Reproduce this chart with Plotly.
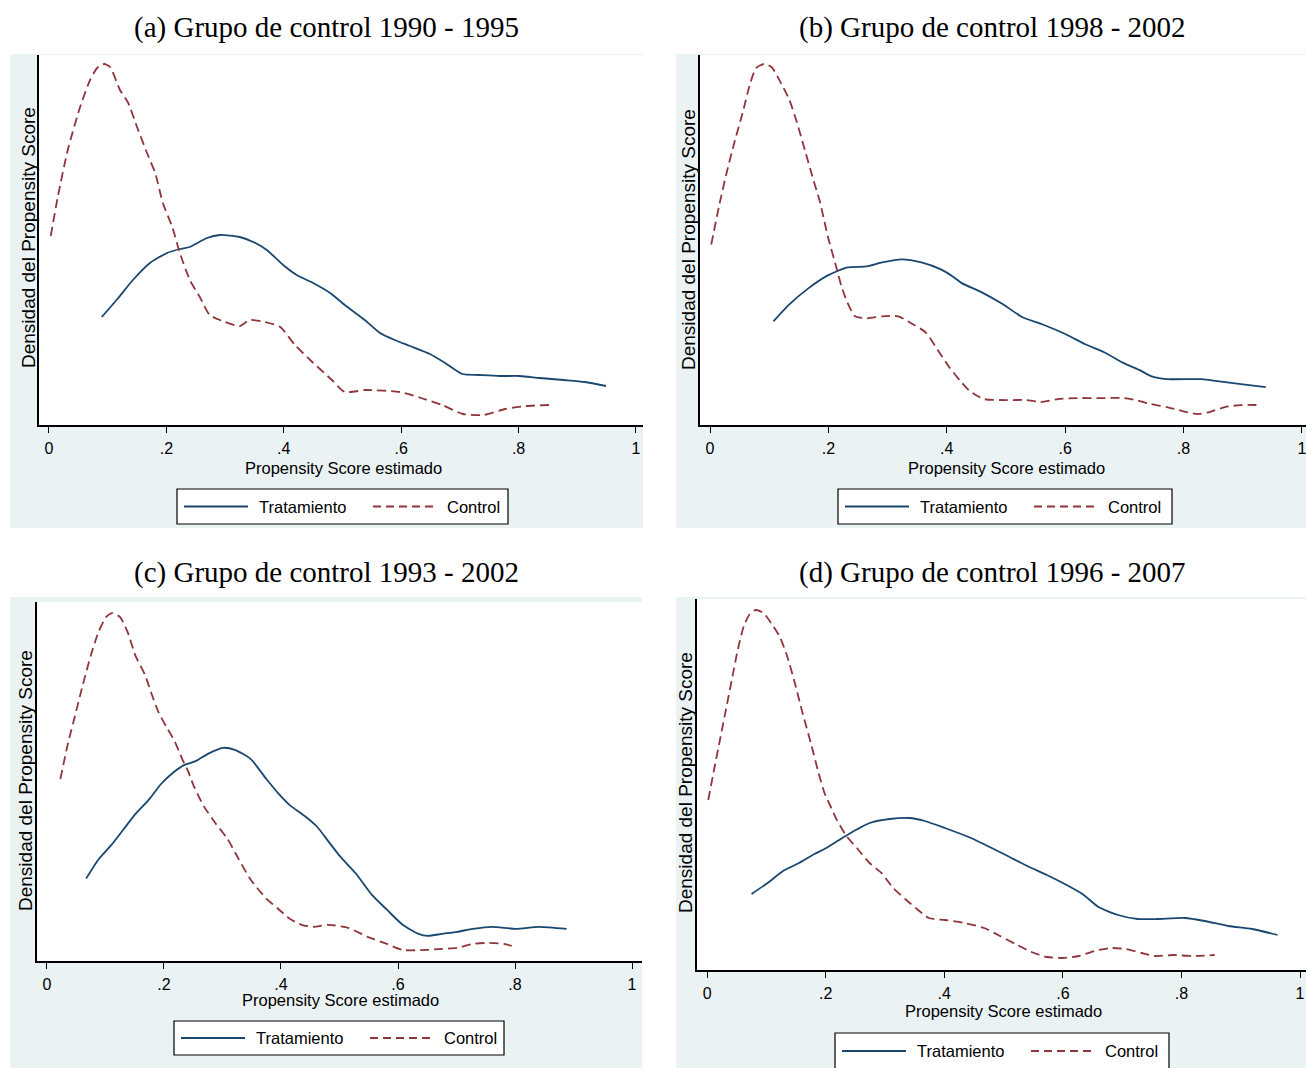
import plotly.graph_objects as go

# ---------------- data ----------------
tick_vals = [0, 0.2, 0.4, 0.6, 0.8, 1]
tick_text = ["0", ".2", ".4", ".6", ".8", "1"]
series_names = ["Tratamiento", "Control"]
titles = ["(a) Grupo de control 1990 - 1995", "(b) Grupo de control 1998 - 2002",
          "(c) Grupo de control 1993 - 2002", "(d) Grupo de control 1996 - 2007"]
x_title = "Propensity Score estimado"
y_title = "Densidad del Propensity Score"

# (a) 1990 - 1995
a_trat_x = [0.090, 0.118, 0.143, 0.172, 0.201, 0.223, 0.240, 0.269, 0.291, 0.325, 0.348, 0.371,
            0.399, 0.422, 0.450, 0.479, 0.504, 0.538, 0.564, 0.589, 0.615, 0.649, 0.675, 0.704,
            0.734, 0.768, 0.802, 0.836, 0.877, 0.913, 0.949]
a_trat_y = [1.08, 1.27, 1.45, 1.62, 1.72, 1.76, 1.78, 1.87, 1.90, 1.88, 1.83, 1.75,
            1.60, 1.50, 1.42, 1.32, 1.20, 1.05, 0.92, 0.85, 0.79, 0.71, 0.62, 0.51,
            0.50, 0.49, 0.49, 0.47, 0.45, 0.43, 0.39]
a_ctrl_x = [0.003, 0.015, 0.032, 0.053, 0.070, 0.082, 0.094, 0.104, 0.121, 0.135, 0.150, 0.167,
            0.181, 0.194, 0.210, 0.223, 0.240, 0.257, 0.274, 0.300, 0.325, 0.342, 0.368, 0.394,
            0.419, 0.445, 0.482, 0.504, 0.540, 0.598, 0.634, 0.670, 0.705, 0.741, 0.777, 0.813,
            0.852]
a_ctrl_y = [1.89, 2.28, 2.75, 3.18, 3.45, 3.57, 3.61, 3.58, 3.35, 3.22, 2.98, 2.72,
            2.52, 2.22, 1.98, 1.72, 1.45, 1.28, 1.10, 1.03, 0.99, 1.05, 1.03, 0.98,
            0.80, 0.65, 0.45, 0.33, 0.35, 0.33, 0.27, 0.20, 0.11, 0.10, 0.16, 0.19,
            0.20]

# (b) 1998 - 2002
b_trat_x = [0.107, 0.134, 0.166, 0.199, 0.232, 0.265, 0.291, 0.324, 0.357, 0.390, 0.410, 0.426,
            0.456, 0.495, 0.528, 0.561, 0.601, 0.634, 0.666, 0.699, 0.726, 0.745, 0.772, 0.831,
            0.857, 0.897, 0.939]
b_trat_y = [1.04, 1.21, 1.37, 1.50, 1.58, 1.59, 1.63, 1.66, 1.63, 1.56, 1.49, 1.42,
            1.34, 1.21, 1.08, 1.01, 0.91, 0.81, 0.73, 0.62, 0.55, 0.49, 0.46, 0.46,
            0.44, 0.41, 0.38]
b_ctrl_x = [0.002, 0.015, 0.028, 0.041, 0.055, 0.068, 0.078, 0.091, 0.104, 0.117, 0.134, 0.147,
            0.160, 0.173, 0.186, 0.199, 0.213, 0.222, 0.232, 0.245, 0.265, 0.291, 0.318, 0.334,
            0.364, 0.384, 0.403, 0.423, 0.439, 0.463, 0.502, 0.535, 0.558, 0.588, 0.620, 0.660,
            0.699, 0.719, 0.745, 0.772, 0.798, 0.824, 0.844, 0.870, 0.897, 0.930]
b_ctrl_y = [1.81, 2.19, 2.53, 2.83, 3.13, 3.43, 3.58, 3.62, 3.59, 3.46, 3.26, 3.03,
            2.76, 2.49, 2.23, 1.89, 1.59, 1.39, 1.23, 1.09, 1.07, 1.09, 1.09, 1.04,
            0.93, 0.76, 0.59, 0.44, 0.34, 0.26, 0.25, 0.25, 0.23, 0.26, 0.27, 0.27,
            0.27, 0.25, 0.21, 0.18, 0.14, 0.11, 0.13, 0.18, 0.20, 0.20]

# (c) 1993 - 2002
c_trat_x = [0.067, 0.088, 0.111, 0.131, 0.151, 0.175, 0.195, 0.215, 0.235, 0.255, 0.275, 0.301,
            0.321, 0.348, 0.375, 0.395, 0.415, 0.441, 0.461, 0.481, 0.501, 0.528, 0.555, 0.581,
            0.608, 0.635, 0.651, 0.675, 0.701, 0.728, 0.761, 0.801, 0.841, 0.888]
c_trat_y = [0.82, 1.01, 1.16, 1.31, 1.46, 1.61, 1.76, 1.87, 1.95, 1.99, 2.06, 2.12,
            2.10, 2.01, 1.81, 1.67, 1.55, 1.44, 1.34, 1.19, 1.04, 0.87, 0.66, 0.51,
            0.36, 0.27, 0.25, 0.27, 0.29, 0.32, 0.34, 0.32, 0.34, 0.32]
c_ctrl_x = [0.023, 0.035, 0.048, 0.061, 0.075, 0.088, 0.101, 0.111, 0.125, 0.138, 0.151, 0.168,
            0.178, 0.191, 0.205, 0.218, 0.231, 0.241, 0.251, 0.268, 0.288, 0.308, 0.328, 0.348,
            0.375, 0.395, 0.415, 0.435, 0.455, 0.481, 0.515, 0.548, 0.581, 0.608, 0.648, 0.675,
            0.701, 0.728, 0.755, 0.781, 0.801]
c_ctrl_y = [1.81, 2.14, 2.44, 2.74, 3.04, 3.27, 3.42, 3.46, 3.42, 3.27, 3.04, 2.84,
            2.67, 2.47, 2.32, 2.19, 2.01, 1.89, 1.74, 1.54, 1.37, 1.22, 1.01, 0.81,
            0.62, 0.52, 0.42, 0.36, 0.34, 0.36, 0.33, 0.24, 0.17, 0.11, 0.11, 0.12,
            0.13, 0.17, 0.18, 0.17, 0.14]

# (d) 1996 - 2007
d_trat_x = [0.075, 0.102, 0.128, 0.155, 0.181, 0.201, 0.228, 0.254, 0.274, 0.308, 0.341, 0.367,
            0.401, 0.441, 0.480, 0.507, 0.540, 0.573, 0.600, 0.633, 0.660, 0.693, 0.726, 0.759,
            0.806, 0.839, 0.879, 0.919, 0.962]
d_trat_y = [0.76, 0.87, 0.99, 1.07, 1.16, 1.22, 1.32, 1.41, 1.47, 1.51, 1.52, 1.49,
            1.42, 1.33, 1.22, 1.14, 1.04, 0.95, 0.87, 0.76, 0.63, 0.55, 0.51, 0.51,
            0.52, 0.49, 0.44, 0.41, 0.35]
d_ctrl_x = [0.002, 0.012, 0.022, 0.032, 0.042, 0.052, 0.062, 0.072, 0.082, 0.095, 0.108, 0.122,
            0.135, 0.148, 0.161, 0.175, 0.188, 0.198, 0.208, 0.218, 0.235, 0.254, 0.274, 0.294,
            0.314, 0.334, 0.354, 0.374, 0.401, 0.434, 0.467, 0.494, 0.520, 0.547, 0.573, 0.600,
            0.627, 0.653, 0.680, 0.706, 0.733, 0.756, 0.786, 0.819, 0.856]
d_ctrl_y = [1.70, 2.01, 2.31, 2.61, 2.91, 3.21, 3.44, 3.56, 3.60, 3.57, 3.47, 3.34,
            3.14, 2.87, 2.57, 2.27, 1.97, 1.77, 1.64, 1.51, 1.34, 1.21, 1.07, 0.97,
            0.82, 0.71, 0.61, 0.52, 0.50, 0.47, 0.42, 0.34, 0.26, 0.18, 0.13, 0.12,
            0.14, 0.19, 0.22, 0.21, 0.17, 0.14, 0.15, 0.14, 0.15]

series = [
    ((a_trat_x, a_trat_y), (a_ctrl_x, a_ctrl_y)),
    ((b_trat_x, b_trat_y), (b_ctrl_x, b_ctrl_y)),
    ((c_trat_x, c_trat_y), (c_ctrl_x, c_ctrl_y)),
    ((d_trat_x, d_trat_y), (d_ctrl_x, d_ctrl_y)),
]

# ---------------- layout / style ----------------
W, H = 1306, 1068
NAVY = "#1A476F"
MAROON = "#90353B"
BG = "#EAF2F3"
SANS = "Liberation Sans, Arial, sans-serif"
SERIF = "Liberation Serif, Times New Roman, serif"
DASH = "9px,5px"

geo = [
    dict(bg=(10, 54, 643, 528), plot=(39, 55, 643, 425), xr=(-0.017, 1.012), ytop=3.70,
         title=(327, 28), xt=(343, 468), yt=(28, 238), leg=(177, 489, 508, 524)),
    dict(bg=(676, 54, 1306, 528), plot=(700, 55, 1306, 425), xr=(-0.017, 1.007), ytop=3.71,
         title=(992, 28), xt=(1006, 468), yt=(688, 240), leg=(838, 489, 1172, 524)),
    dict(bg=(10, 597, 642, 1068), plot=(37, 602, 642, 961), xr=(-0.017, 1.017), ytop=3.57,
         title=(327, 572), xt=(340, 1000), yt=(25, 781), leg=(174, 1021, 504, 1055)),
    dict(bg=(676, 597, 1306, 1068), plot=(697, 599, 1306, 970), xr=(-0.017, 1.010), ytop=3.71,
         title=(992, 572), xt=(1003, 1011), yt=(685, 783), leg=(835, 1033, 1169, 1072)),
]


def px(x):
    return x / W


def py(y):
    return 1 - y / H


fig = go.Figure()
shapes = []
annotations = []
layout_axes = {}

for i, ((trat, ctrl), g, ttl) in enumerate(zip(series, geo, titles)):
    n = "" if i == 0 else str(i + 1)
    xa, ya = "x" + n, "y" + n
    fig.add_trace(go.Scatter(x=trat[0], y=trat[1], mode="lines", name=series_names[0],
                             line=dict(color=NAVY, width=1.8, shape="spline", smoothing=0.6),
                             xaxis=xa, yaxis=ya, showlegend=False, hoverinfo="skip"))
    fig.add_trace(go.Scatter(x=ctrl[0], y=ctrl[1], mode="lines", name=series_names[1],
                             line=dict(color=MAROON, width=1.8, dash=DASH, shape="spline", smoothing=0.6),
                             xaxis=xa, yaxis=ya, showlegend=False, hoverinfo="skip"))
    x0, y0, x1, y1 = g["plot"]
    layout_axes["xaxis" + n] = dict(
        domain=[px(x0), px(x1)], range=list(g["xr"]), anchor=ya,
        tickvals=tick_vals, ticktext=tick_text, ticks="outside", ticklen=6, tickwidth=1.2,
        tickcolor="#000000", showline=True, linecolor="#000000", linewidth=1.5,
        showgrid=False, zeroline=False, tickfont=dict(family=SANS, size=16, color="#000000"),
        ticklabelstandoff=2, ticklabeloverflow="allow", fixedrange=True)
    layout_axes["yaxis" + n] = dict(
        domain=[py(y1), py(y0)], range=[0, g["ytop"]], anchor=xa,
        showticklabels=False, ticks="", showline=True, linecolor="#000000", linewidth=1.5,
        showgrid=False, zeroline=False, fixedrange=True)

    # panel (graph region) background and white plot region
    bx0, by0, bx1, by1 = g["bg"]
    shapes.append(dict(type="rect", xref="paper", yref="paper", layer="below",
                       x0=px(bx0), x1=px(bx1), y0=py(by1), y1=py(by0),
                       fillcolor=BG, line=dict(width=0)))
    shapes.append(dict(type="rect", xref="paper", yref="paper", layer="below",
                       x0=px(x0), x1=px(x1), y0=py(y1), y1=py(y0),
                       fillcolor="#FFFFFF", line=dict(width=0)))

    # titles
    tx, ty = g["title"]
    annotations.append(dict(text=ttl, x=px(tx), y=py(ty), xref="paper", yref="paper",
                            xanchor="center", yanchor="middle", showarrow=False,
                            font=dict(family=SERIF, size=29, color="#000000")))
    ax, ay = g["xt"]
    annotations.append(dict(text=x_title, x=px(ax), y=py(ay), xref="paper", yref="paper",
                            xanchor="center", yanchor="middle", showarrow=False,
                            font=dict(family=SANS, size=16.5, color="#000000")))
    yx, yy = g["yt"]
    annotations.append(dict(text=y_title, x=px(yx), y=py(yy), xref="paper", yref="paper",
                            xanchor="center", yanchor="middle", showarrow=False, textangle=-90,
                            font=dict(family=SANS, size=19, color="#000000")))

    # legend box
    L, T, R, B = g["leg"]
    cy = (T + B) / 2 if i < 3 else 1051
    shapes.append(dict(type="rect", xref="paper", yref="paper", layer="above",
                       x0=px(L), x1=px(R), y0=py(B), y1=py(T),
                       fillcolor="#FFFFFF", line=dict(color="#000000", width=1.2)))
    shapes.append(dict(type="line", xref="paper", yref="paper", layer="above",
                       x0=px(L + 7), x1=px(L + 71), y0=py(cy), y1=py(cy),
                       line=dict(color=NAVY, width=1.8)))
    shapes.append(dict(type="line", xref="paper", yref="paper", layer="above",
                       x0=px(L + 196), x1=px(L + 259), y0=py(cy), y1=py(cy),
                       line=dict(color=MAROON, width=1.8, dash="8px,5px")))
    annotations.append(dict(text=series_names[0], x=px(L + 80), y=py(cy), xref="paper", yref="paper",
                            xanchor="left", yanchor="middle", showarrow=False,
                            font=dict(family=SANS, size=16.5, color="#000000")))
    annotations.append(dict(text=series_names[1], x=px(L + 268), y=py(cy), xref="paper", yref="paper",
                            xanchor="left", yanchor="middle", showarrow=False,
                            font=dict(family=SANS, size=16.5, color="#000000")))

fig.update_layout(
    width=W, height=H, margin=dict(l=0, r=0, t=0, b=0),
    paper_bgcolor="#FFFFFF", plot_bgcolor="#FFFFFF",
    shapes=shapes, annotations=annotations, showlegend=False,
    **layout_axes,
)

fig.write_html("out.html", config={"displayModeBar": False},
               post_script="document.body.style.margin='0';document.body.style.overflow='hidden';")
